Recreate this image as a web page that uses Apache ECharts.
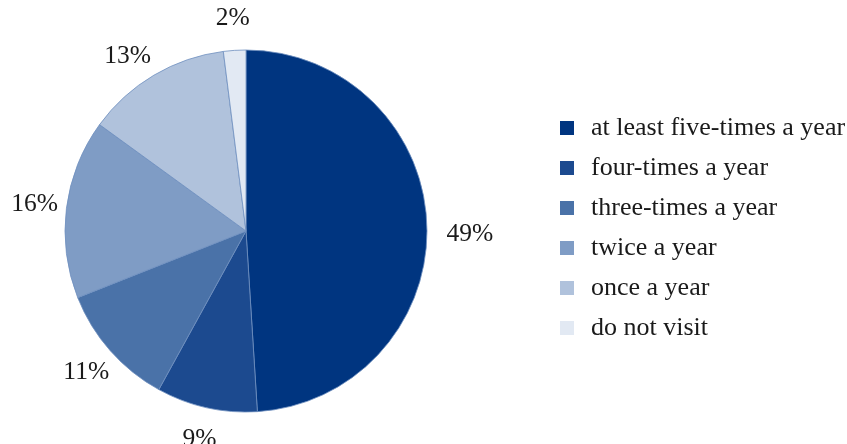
<!DOCTYPE html>
<html>
<head>
<meta charset="utf-8">
<script src="https://cdn.jsdelivr.net/npm/echarts@6/dist/echarts.min.js"></script>
<style>
  html, body { margin: 0; padding: 0; background: #fff; }
  #chart { width: 847px; height: 444px; }
</style>
</head>
<body>
<div id="chart"></div>
<script>
var categories = ['at least five-times a year', 'four-times a year', 'three-times a year', 'twice a year', 'once a year', 'do not visit'];
var values = [49, 9, 11, 16, 13, 2];
var colors = ['#003580', '#1c4a8f', '#4a72a8', '#7f9cc5', '#b0c2dc', '#e2e9f3'];

var myChart = echarts.init(document.getElementById('chart'));

var pieData = [];
for (var i = 0; i < categories.length; i++) {
    pieData.push({ name: categories[i], value: values[i], itemStyle: { color: colors[i] } });
}
// 49% 的标签离饼图稍远
pieData[0].labelLine = { length: 43 };

var option = {
    animation: false,
    backgroundColor: '#fff',
    legend: {
        orient: 'vertical',
        left: 555,
        top: 110,
        icon: 'rect',
        itemWidth: 14,
        itemHeight: 14,
        itemGap: 14,
        itemStyle: { borderWidth: 0 },
        textStyle: {
            fontFamily: 'Liberation Serif',
            fontSize: 26,
            lineHeight: 26,
            color: '#1a1a1a',
            padding: [0, 0, 0, 12]
        },
        data: categories
    },
    series: [{
        type: 'pie',
        center: [246, 231],
        radius: 181,
        startAngle: 90,
        clockwise: true,
        avoidLabelOverlap: false,
        itemStyle: {
            borderColor: '#6f8fbf',
            borderWidth: 0.8
        },
        label: {
            show: true,
            position: 'outside',
            formatter: '{c}%',
            fontFamily: 'Liberation Serif',
            fontSize: 25.5,
            color: '#1a1a1a',
            distanceToLabelLine: 0
        },
        labelLine: {
            show: false,
            length: 32,
            length2: 0
        },
        // 标签居中放在引导线末端，个别微调
        labelLayout: function (params) {
            var res = { align: 'center', verticalAlign: 'middle' };
            if (params.dataIndex === 0) {
                res.dy = 10;
            } else if (params.dataIndex === 4) {
                res.dx = -10;
                res.dy = 9;
            }
            return res;
        },
        data: pieData
    }]
};

myChart.setOption(option);
</script>
</body>
</html>
